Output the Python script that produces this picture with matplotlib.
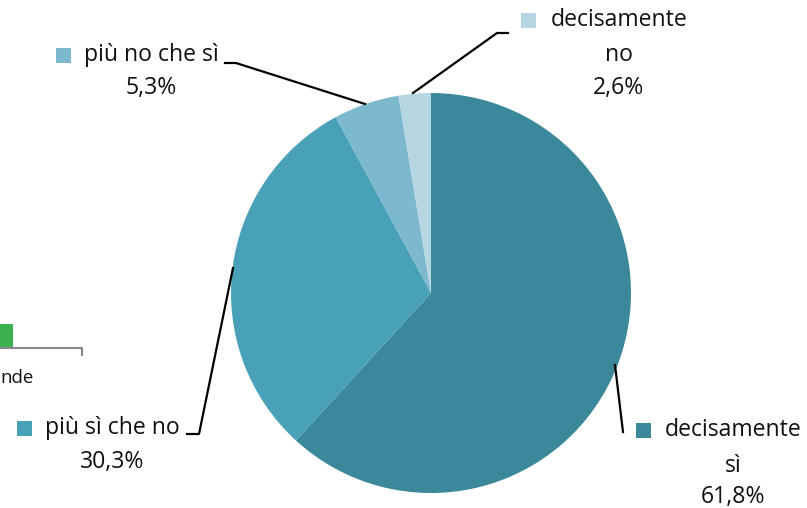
import matplotlib.pyplot as plt
from matplotlib.patches import Rectangle

# dati del grafico
labels = ['decisamente sì', 'più sì che no', 'più no che sì', 'decisamente no']
values = [61.8, 30.3, 5.3, 2.6]
colors = ['#3a889a', '#48a1b8', '#7cb9cf', '#b6d7e2']
pct_text = ['61,8%', '30,3%', '5,3%', '2,6%']

W, H = 807, 508
plt.rcParams['font.family'] = ['Open Sans', 'DejaVu Sans']

fig = plt.figure(figsize=(W / 100, H / 100), dpi=100)
ax = fig.add_axes([0, 0, 1, 1])


def py(y):
    # coordinate in pixel dall'alto
    return H - y


ax.pie(values, colors=colors, startangle=90, counterclock=False,
       center=(431, py(293)), radius=200, frame=True)
ax.set_xlim(0, W)
ax.set_ylim(0, H)
ax.set_aspect('equal')
ax.axis('off')

fs = 16.6
# etichette: (righe, centro x, y righe, quadratino x)
lab_info = [
    (['decisamente', 'sì', pct_text[0]], 733, [430, 466, 497], 636),
    (['più sì che no', pct_text[1]], 112, [428, 462], 17),
    (['più no che sì', pct_text[2]], 151, [55, 88], 56),
    (['decisamente', 'no', pct_text[3]], 619, [20, 55, 88], 521),
]
for i, (lines, cx, ys, mx) in enumerate(lab_info):
    for txt, y in zip(lines, ys):
        ax.text(cx, py(y), txt, ha='center', va='center', fontsize=fs,
                color='#111111')
    ax.add_patch(Rectangle((mx, py(ys[0]) - 7.5), 15, 15,
                           facecolor=colors[i], edgecolor='none'))

# linee guida
leaders = [
    ([615, 623], [365, 432]),
    ([187, 199, 233], [434, 434, 268]),
    ([225, 236, 365], [63, 63, 104]),
    ([413, 497, 508], [93, 33, 33]),
]
for xs, ys in leaders:
    ax.plot(xs, [py(v) for v in ys], color='black', lw=1.6)

# frammento di un altro grafico a sinistra
ax.add_patch(Rectangle((0, py(347)), 13, 23, facecolor='#3ab04f',
                       edgecolor='none'))
ax.plot([0, 82, 82], [py(348), py(348), py(355)], color='#888888', lw=1.5)
ax.text(0, py(378), 'nde', ha='left', va='center', fontsize=13.5,
        color='#111111')

fig.savefig('out.png', dpi=100)
